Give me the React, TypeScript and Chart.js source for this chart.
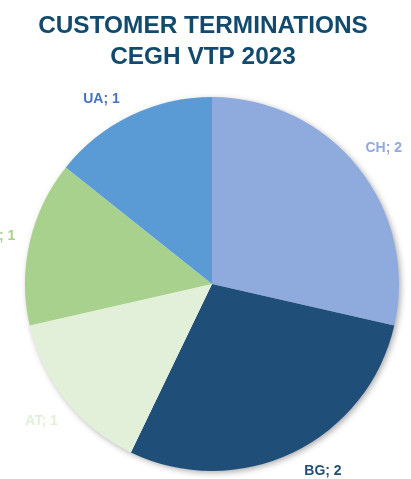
import React, { useEffect, useRef } from "react";
import { Chart, registerables } from "chart.js";

Chart.register(...registerables);

const categories = ["CH", "BG", "AT", "SK", "UA"];
const values = [2, 2, 1, 1, 1];
const sliceColors = ["#8faadc", "#1f4e79", "#e2f0d9", "#a9d18e", "#5b9bd5"];
const labelColors = ["#8faadc", "#1f4e79", "#e2f0d9", "#a9d18e", "#4472c4"];
const titleLines = ["CUSTOMER TERMINATIONS", "CEGH VTP 2023"];

const titlePlugin = {
  id: "customTitle",
  afterDraw(chart: any) {
    const ctx = chart.ctx;
    ctx.save();
    ctx.font = "bold 24.4px 'Liberation Sans', Arial, sans-serif";
    ctx.fillStyle = "#124a6e";
    ctx.textAlign = "center";
    ctx.textBaseline = "alphabetic";
    titleLines.forEach((line, i) => {
      ctx.fillText(line, 203, 32.5 + i * 31);
    });
    ctx.restore();
  },
};

const shadowPlugin = {
  id: "pieShadow",
  beforeDatasetsDraw(chart: any) {
    const meta = chart.getDatasetMeta(0);
    const arc = meta.data[0];
    if (!arc) return;
    const { x, y, outerRadius } = arc.getProps(["x", "y", "outerRadius"], true);
    const ctx = chart.ctx;
    ctx.save();
    ctx.shadowColor = "rgba(0,0,0,0.35)";
    ctx.shadowBlur = 6;
    ctx.shadowOffsetX = 2;
    ctx.shadowOffsetY = 2;
    ctx.fillStyle = "#ffffff";
    ctx.beginPath();
    ctx.arc(x, y, outerRadius - 0.5, 0, Math.PI * 2);
    ctx.fill();
    ctx.restore();
  },
};

const labelPlugin = {
  id: "outLabels",
  afterDatasetsDraw(chart: any) {
    const ctx = chart.ctx;
    const meta = chart.getDatasetMeta(0);
    const topLimit = 91;
    const bottomLimit = chart.height - 2;
    ctx.save();
    ctx.font = "bold 14px 'Liberation Sans', Arial, sans-serif";
    ctx.textAlign = "center";
    ctx.textBaseline = "middle";
    meta.data.forEach((arc: any, i: number) => {
      const { x, y, outerRadius, startAngle, endAngle } = arc.getProps(
        ["x", "y", "outerRadius", "startAngle", "endAngle"],
        true
      );
      const text = `${categories[i]}; ${values[i]}`;
      const w = ctx.measureText(text).width;
      const h = 14;
      const pos = (a: number) => {
        const c = Math.cos(a);
        const s = Math.sin(a);
        const d = outerRadius + 14 + Math.abs(c) * (w / 2) + Math.abs(s) * (h / 2);
        return { px: x + c * d, py: y + s * d };
      };
      const fits = (p: { px: number; py: number }) =>
        p.py - h / 2 >= topLimit && p.py + h / 2 <= bottomLimit;
      const mid = (startAngle + endAngle) / 2;
      let p = pos(mid);
      if (!fits(p)) {
        // slide toward the nearest horizontal direction
        const c = Math.cos(mid);
        const s = Math.sin(mid);
        let target = Math.atan2(0, c >= 0 ? 1 : -1);
        let a0 = Math.atan2(s, c);
        if (c < 0 && target > 0 && a0 < 0) target = -Math.PI;
        let lo = a0;
        let hi = target;
        for (let k = 0; k < 40; k++) {
          const m = (lo + hi) / 2;
          if (fits(pos(m))) hi = m;
          else lo = m;
        }
        p = pos(hi);
      }
      ctx.fillStyle = labelColors[i];
      ctx.fillText(text, p.px, p.py + 1);
    });
    ctx.restore();
  },
};

export default function App() {
  const ref = useRef<HTMLCanvasElement | null>(null);
  useEffect(() => {
    if (!ref.current) return;
    const chart = new Chart(ref.current, {
      type: "pie",
      data: {
        labels: categories,
        datasets: [
          {
            data: values,
            backgroundColor: sliceColors,
            borderWidth: 0,
            hoverBorderWidth: 0,
            hoverOffset: 0,
          },
        ],
      },
      options: {
        responsive: false,
        animation: false,
        events: [],
        layout: { padding: { left: 25, right: 12, top: 97, bottom: 8 } },
        plugins: {
          legend: { display: false },
          tooltip: { enabled: false },
          title: { display: false },
        },
      },
      plugins: [shadowPlugin, labelPlugin, titlePlugin],
    });
    return () => chart.destroy();
  }, []);
  return (
    <div style={{ position: "absolute", left: 0, top: 0, width: 411, height: 479, background: "#ffffff" }}>
      <canvas ref={ref} width={411} height={479} />
    </div>
  );
}
